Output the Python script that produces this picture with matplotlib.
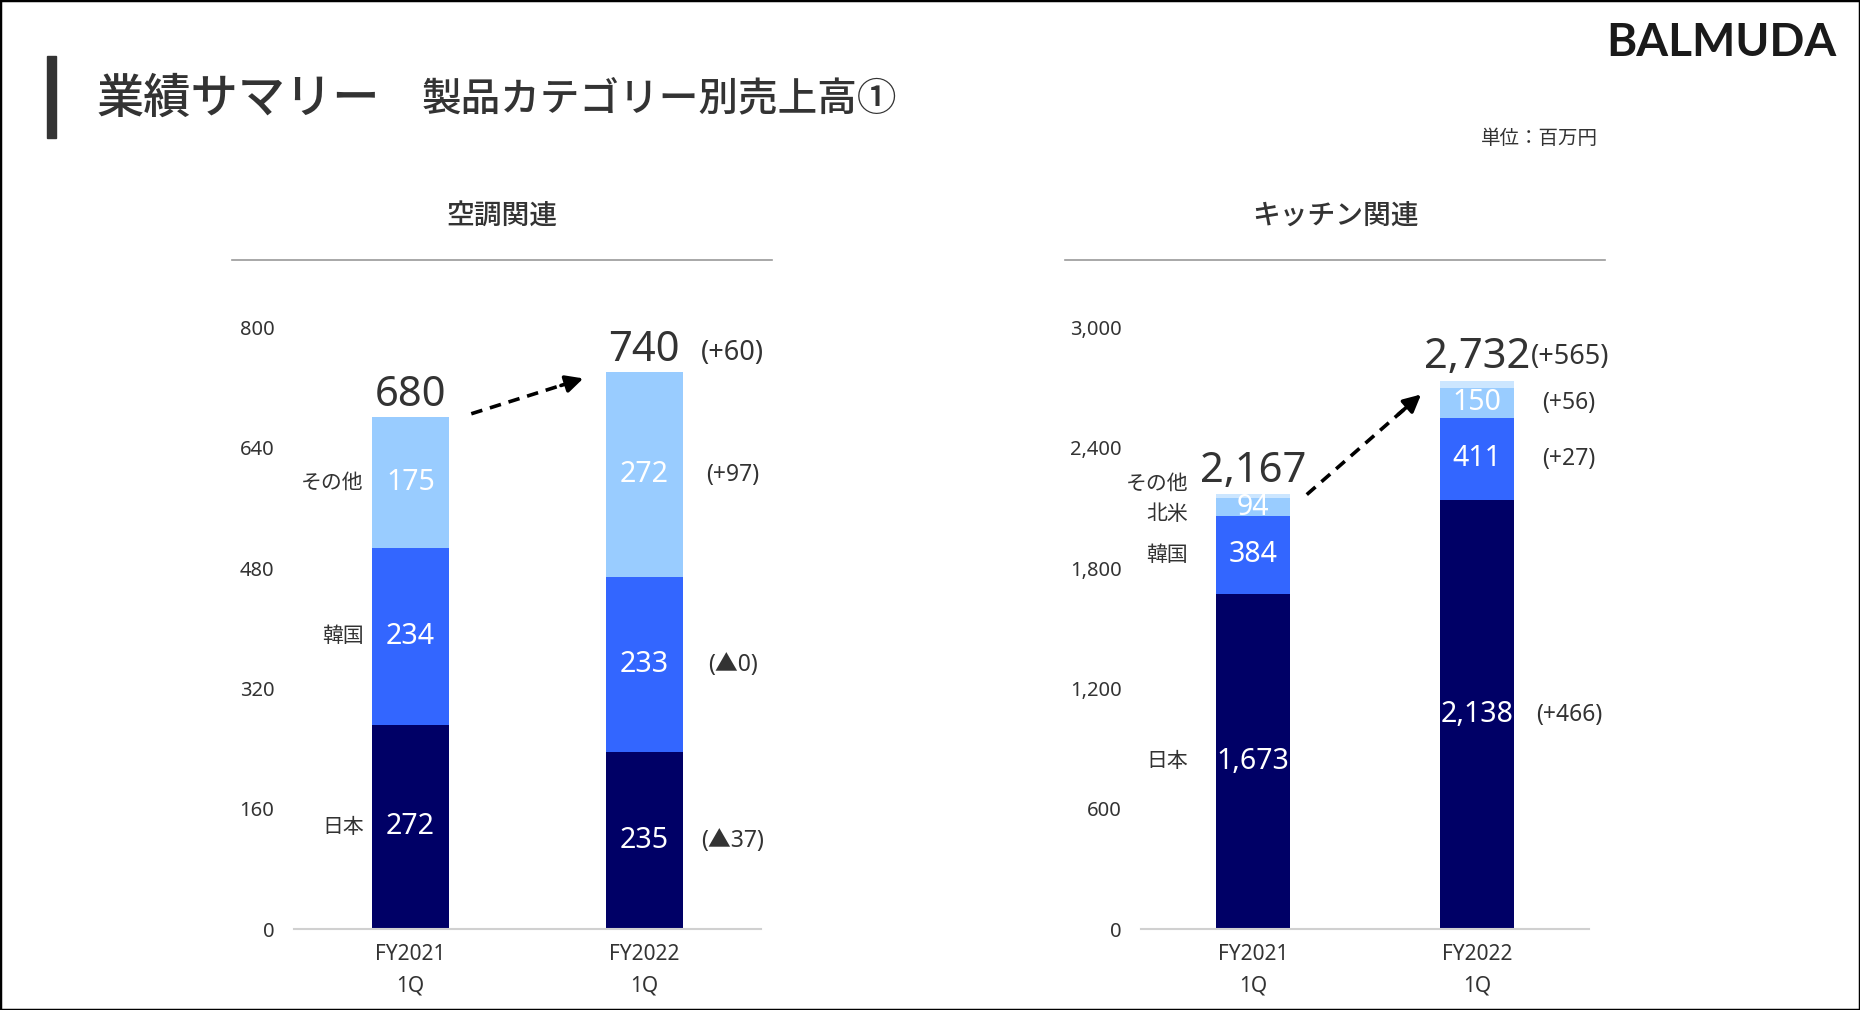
import matplotlib
matplotlib.use("Agg")
import matplotlib.pyplot as plt
from matplotlib.lines import Line2D
from matplotlib.patches import Rectangle

plt.rcParams['font.family'] = ['Noto Sans', 'Noto Sans CJK JP', 'DejaVu Sans']
JP = ['Noto Sans CJK JP', 'DejaVu Sans']

TEXT = '#333333'
NAVY = '#000066'
BLUE = '#3366FF'
LIGHT = '#99CCFF'
PALE = '#CCE6FF'

periods = ['FY2021\n1Q', 'FY2022\n1Q']

# 空調関連
ac_japan = [272, 235]
ac_korea = [234, 233]
ac_other = [175, 272]
ac_total = [680, 740]
ac_delta = ['(+60)', '(+97)', '(▲0)', '(▲37)']   # total, その他, 韓国, 日本
ac_ticks = [0, 160, 320, 480, 640, 800]

# キッチン関連
kt_japan = [1673, 2138]
kt_korea = [384, 411]
kt_na = [94, 150]
kt_other = [16, 33]
kt_total = [2167, 2732]
kt_delta = ['(+565)', '(+56)', '(+27)', '(+466)']  # total, 北米, 韓国, 日本
kt_ticks = [0, 600, 1200, 1800, 2400, 3000]

fig = plt.figure(figsize=(18.6, 10.1), dpi=100)
fig.patch.set_facecolor('white')
fig.add_artist(Rectangle((0, 0), 1, 1, transform=fig.transFigure, fill=False,
                         edgecolor='black', lw=2.5))

# header
fig.add_artist(Rectangle((47 / 1860, 1 - 138 / 1010), 9 / 1860, 82 / 1010,
                         transform=fig.transFigure, color='#333333'))
fig.text(97 / 1860, 1 - 99 / 1010, '業績サマリー', fontsize=34, color=TEXT,
         va='center', ha='left', weight='medium', family=JP)
fig.text(422 / 1860, 1 - 99 / 1010, '製品カテゴリー別売上高①', fontsize=28.5, color=TEXT,
         va='center', ha='left', weight='medium', family=JP)
fig.text(1836 / 1860, 1 - 43 / 1010, 'BALMUDA', fontsize=33, color='#1a1a1a',
         va='center', ha='right', weight='bold', family=['Lato', 'DejaVu Sans'])
fig.text(1598 / 1860, 1 - 138 / 1010, '単位：百万円', fontsize=14, color=TEXT,
         va='center', ha='right', family=JP)

W = 0.33
DSZ = 16.5   # delta label size
TSZ = 30     # total label size


def setup(ax, ticks, fmt, title, x0, x1):
    ax.set_xlim(-0.5, 1.5)
    ax.set_ylim(0, ticks[-1])
    ax.set_yticks(ticks)
    ax.set_yticklabels([fmt.format(t) for t in ticks])
    ax.set_xticks([0, 1])
    ax.set_xticklabels(periods, linespacing=1.6)
    ax.tick_params(axis='y', length=0, pad=14, labelsize=14.5, labelcolor=TEXT)
    ax.tick_params(axis='x', length=0, pad=11, labelsize=15, labelcolor=TEXT)
    for s in ['top', 'right', 'left']:
        ax.spines[s].set_visible(False)
    ax.spines['bottom'].set_color('#d0d0d0')
    ax.spines['bottom'].set_linewidth(1.5)
    ax.patch.set_alpha(0)
    fig.text((x0 + x1) / 2 / 1860, 1 - 215 / 1010, title, fontsize=20, color=TEXT,
             ha='center', va='center', weight='medium', family=JP)
    fig.add_artist(Line2D([x0 / 1860, x1 / 1860], [1 - 260 / 1010] * 2,
                          color='#9a9a9a', lw=1.2))


def seg_label(ax, x, bottom, h, txt, size=20.5):
    ax.text(x, bottom + h / 2, txt, ha='center', va='center', color='white',
            fontsize=size)


def dashed_arrow(ax, p0, p1):
    ax.plot([p0[0], p0[0] + 0.85 * (p1[0] - p0[0])],
            [p0[1], p0[1] + 0.85 * (p1[1] - p0[1])],
            color='black', ls=(0, (3.2, 2.2)), lw=2.6, clip_on=False)
    ax.annotate('', xy=p1, xytext=(p0[0] + 0.8 * (p1[0] - p0[0]),
                                   p0[1] + 0.8 * (p1[1] - p0[1])),
                arrowprops=dict(arrowstyle='-|>', color='black', lw=2.6,
                                mutation_scale=26, shrinkA=0, shrinkB=0),
                annotation_clip=False)


def cat_label(ax, x, y, txt, dy=0):
    ax.annotate(txt, (x, y), xytext=(0, dy), textcoords='offset points',
                ha='right', va='center', fontsize=15, color=TEXT, family=JP,
                annotation_clip=False)


# ---------- left chart ----------
ax1 = fig.add_axes([0.158, 0.080, 0.251, 0.596])
setup(ax1, ac_ticks, '{:d}', '空調関連', 232, 772)
x = [0, 1]
b2 = [j + k for j, k in zip(ac_japan, ac_korea)]
ax1.bar(x, ac_japan, W, color=NAVY)
ax1.bar(x, ac_korea, W, bottom=ac_japan, color=BLUE)
ax1.bar(x, ac_other, W, bottom=b2, color=LIGHT)
for i in x:
    seg_label(ax1, i, 0, ac_japan[i], f'{ac_japan[i]:,}')
    seg_label(ax1, i, ac_japan[i], ac_korea[i], f'{ac_korea[i]:,}')
    seg_label(ax1, i, b2[i], ac_other[i], f'{ac_other[i]:,}')
    ax1.annotate(f'{ac_total[i]:,}', (i, ac_total[i]), xytext=(0, 16),
                 textcoords='offset points', ha='center', va='center',
                 fontsize=TSZ, color=TEXT, annotation_clip=False)
lx = -0.2
cat_label(ax1, lx, b2[0] + ac_other[0] / 2, 'その他')
cat_label(ax1, lx, ac_japan[0] + ac_korea[0] / 2, '韓国')
cat_label(ax1, lx, ac_japan[0] / 2, '日本')
dx = 1.38
ax1.annotate(ac_delta[0], (dx, ac_total[1]), xytext=(0, 14), textcoords='offset points',
             ha='center', va='center', fontsize=19.5, color=TEXT, annotation_clip=False)
ax1.text(dx, b2[1] + ac_other[1] / 2, ac_delta[1], ha='center', va='center', fontsize=DSZ, color=TEXT)
ax1.text(dx, ac_japan[1] + ac_korea[1] / 2, ac_delta[2], ha='center', va='center', fontsize=DSZ, color=TEXT)
ax1.text(dx, ac_japan[1] / 2, ac_delta[3], ha='center', va='center', fontsize=DSZ, color=TEXT)
dashed_arrow(ax1, (0.26, 685), (0.74, 732))

# ---------- right chart ----------
ax2 = fig.add_axes([0.6134, 0.080, 0.241, 0.596])
setup(ax2, kt_ticks, '{:,}', 'キッチン関連', 1065, 1605)
k2 = [j + k for j, k in zip(kt_japan, kt_korea)]
k3 = [a + b for a, b in zip(k2, kt_na)]
ax2.bar(x, kt_japan, W, color=NAVY)
ax2.bar(x, kt_korea, W, bottom=kt_japan, color=BLUE)
ax2.bar(x, kt_na, W, bottom=k2, color=LIGHT)
ax2.bar(x, kt_other, W, bottom=k3, color=PALE)
for i in x:
    seg_label(ax2, i, 0, kt_japan[i], f'{kt_japan[i]:,}')
    seg_label(ax2, i, kt_japan[i], kt_korea[i], f'{kt_korea[i]:,}')
    seg_label(ax2, i, k2[i], kt_na[i], f'{kt_na[i]:,}')
    ax2.annotate(f'{kt_total[i]:,}', (i, kt_total[i]), xytext=(0, 17),
                 textcoords='offset points', ha='center', va='center',
                 fontsize=TSZ, color=TEXT, annotation_clip=False)
lx = -0.29
cat_label(ax2, lx, kt_total[0], 'その他', dy=8)
cat_label(ax2, lx, k2[0] + kt_na[0] / 2, '北米', dy=-5)
cat_label(ax2, lx, kt_japan[0] + kt_korea[0] / 2, '韓国')
cat_label(ax2, lx, kt_japan[0] / 2, '日本')
ax2.annotate(kt_delta[0], (1.24, kt_total[1]), xytext=(0, 17), textcoords='offset points',
             ha='left', va='center', fontsize=19.5, color=TEXT, annotation_clip=False)
dx = 1.41
ax2.text(dx, k2[1] + kt_na[1] / 2, kt_delta[1], ha='center', va='center', fontsize=DSZ, color=TEXT)
ax2.text(dx, kt_japan[1] + kt_korea[1] / 2, kt_delta[2], ha='center', va='center', fontsize=DSZ, color=TEXT)
ax2.text(dx, kt_japan[1] / 2, kt_delta[3], ha='center', va='center', fontsize=DSZ, color=TEXT)
dashed_arrow(ax2, (0.24, 2166), (0.75, 2665))

fig.savefig('out.png', dpi=100)
